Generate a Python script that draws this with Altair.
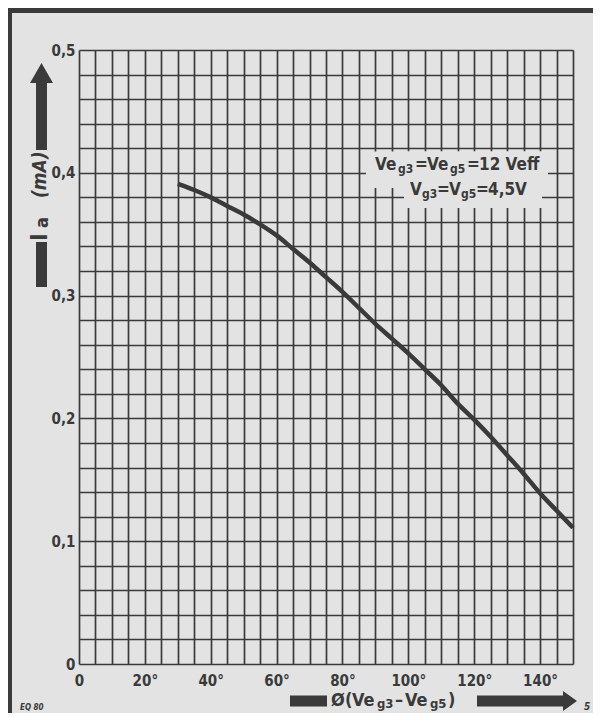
import altair as alt
import pandas as pd

# ---- data ----
phase_deg = [30, 35, 40, 45, 50, 55, 60, 65, 70, 75, 80, 85, 90, 95, 100,
             105, 110, 115, 120, 125, 130, 135, 140, 145, 150]
ia_mA = [0.391, 0.386, 0.380, 0.373, 0.366, 0.358, 0.349, 0.338, 0.327, 0.315,
         0.303, 0.290, 0.277, 0.265, 0.253, 0.240, 0.227, 0.212, 0.199, 0.185,
         0.170, 0.155, 0.139, 0.125, 0.111]

x_ticks = list(range(0, 151, 5))
y_ticks = [round(i * 0.02, 2) for i in range(26)]

df = pd.DataFrame({"phase": phase_deg, "ia": ia_mA})
one = pd.DataFrame({"k": [0]})

FONT = "'Liberation Sans Narrow', 'DejaVu Sans Condensed', 'Arial Narrow', sans-serif"
INK = "#3a3a3a"
BG = "#e3e3e3"
OX, OY = 79, 50  # plot origin on the page


def px(x):
    return x - OX


def py(y):
    return y - OY


def txt(s, x, y, size, align="left", baseline="alphabetic", angle=0, style="normal"):
    return alt.Chart(one).mark_text(
        text=s, align=align, baseline=baseline, angle=angle, fontSize=size,
        font=FONT, fontWeight="bold", fontStyle=style, color=INK
    ).encode(x=alt.value(px(x)), y=alt.value(py(y)))


def rect(x1, x2, y1, y2, color=INK):
    return alt.Chart(one).mark_rect(color=color, opacity=1).encode(
        x=alt.value(px(x1)), x2=alt.value(px(x2)),
        y=alt.value(py(y1)), y2=alt.value(py(y2)))


def shape(path, cx, cy, side):
    return alt.Chart(one).mark_point(
        shape=path, filled=True, size=side * side, color=INK, opacity=1, strokeWidth=0
    ).encode(x=alt.value(px(cx)), y=alt.value(py(cy)))


x_label_expr = ("datum.value == 0 ? '0' : ((datum.value % 20 == 0 && datum.value < 150) "
                "? datum.value + '°' : '')")
y_label_expr = ("datum.value == 0 ? '0' : (round(datum.value * 100) % 10 == 0 "
                "? replace(format(datum.value, '.1f'), '.', ',') : '')")

curve = alt.Chart(df).mark_line(
    interpolate="monotone", strokeWidth=4.5, color=INK, strokeCap="butt"
).encode(
    x=alt.X("phase:Q", scale=alt.Scale(domain=[0, 150], nice=False, zero=False),
            axis=alt.Axis(values=x_ticks, grid=True, gridColor=INK, gridWidth=1.7,
                          gridOpacity=1, domain=False, ticks=False, labelExpr=x_label_expr,
                          labelFont=FONT, labelFontSize=15, labelFontWeight="bold",
                          labelColor=INK, labelPadding=9, labelFlush=False,
                          labelOverlap=False, title=None)),
    y=alt.Y("ia:Q", scale=alt.Scale(domain=[0, 0.5], nice=False, zero=False),
            axis=alt.Axis(values=y_ticks, grid=True, gridColor=INK, gridWidth=1.7,
                          gridOpacity=1, domain=False, ticks=False, labelExpr=y_label_expr,
                          labelFont=FONT, labelFontSize=15, labelFontWeight="bold",
                          labelColor=INK, labelPadding=4, labelFlush=False,
                          labelOverlap=False, title=None)),
)

layers = []
# mask behind the annotation
layers.append(rect(366, 548, 151.5, 188, BG))
layers.append(rect(404, 542, 151.5, 208, BG))
layers.append(curve)

# frame border
layers.append(rect(8, 12, 8, 717))
layers.append(rect(8, 601, 8, 13))

# y title: arrow, text, bar
up_arrow = ("M0,-1 L0.264,-0.540 L0.126,-0.540 L0.126,1 L-0.126,1 "
            "L-0.126,-0.540 L-0.264,-0.540 Z")
layers.append(shape(up_arrow, 41.5, 106.5, 87))
layers.append(rect(36, 47, 242, 287))
layers.append(txt("I", 47, 241, 23, angle=270))
layers.append(txt("a", 48, 228, 18, angle=270))
layers.append(txt("(mA)", 46, 198, 19, angle=270, style="italic"))

# x title: bar, text, arrow
MAINY = 706
SUBY = 708
layers.append(rect(290, 327, 695.5, 706.5))
layers.append(txt("Ø", 331, MAINY, 18))
layers.append(txt("(", 345, MAINY, 18))
layers.append(txt("Ve", 352, MAINY, 18))
layers.append(txt("g3", 377, SUBY, 13))
layers.append(txt("–", 395, MAINY, 18))
layers.append(txt("Ve", 405, MAINY, 18))
layers.append(txt("g5", 430, SUBY, 13))
layers.append(txt(")", 448, MAINY, 18))
right_arrow = "M1,0 L0.72,0.2 L0.72,0.11 L-1,0.11 L-1,-0.11 L0.72,-0.11 L0.72,-0.2 Z"
layers.append(shape(right_arrow, 527, 701, 100))

# annotation
A1, S1 = 170, 173
layers.append(txt("Ve", 375, A1, 17))
layers.append(txt("g3", 398, S1, 12))
layers.append(txt("=", 415, A1, 17))
layers.append(txt("Ve", 427, A1, 17))
layers.append(txt("g5", 450, S1, 12))
layers.append(txt("=", 467, A1, 17))
layers.append(txt("12 Veff", 479, A1, 17))
A2, S2 = 195, 198
layers.append(txt("V", 410, A2, 17))
layers.append(txt("g3", 422, S2, 12))
layers.append(txt("=", 437, A2, 17))
layers.append(txt("V", 449, A2, 17))
layers.append(txt("g5", 461, S2, 12))
layers.append(txt("=", 476, A2, 17))
layers.append(txt("4,5V", 488, A2, 17))

# small corner marks
layers.append(txt("EQ 80", 20, 710, 8, style="italic"))
layers.append(txt("5", 584, 710, 10, style="italic"))

chart = alt.layer(*layers).properties(
    width=494, height=614,
    autosize=alt.AutoSizeParams(type="none"),
    padding={"left": 71, "top": 42, "right": 20, "bottom": 49},
    background=BG,
).configure_view(stroke=None)

chart.save("out.html", embed_options={"renderer": "svg", "actions": False})
